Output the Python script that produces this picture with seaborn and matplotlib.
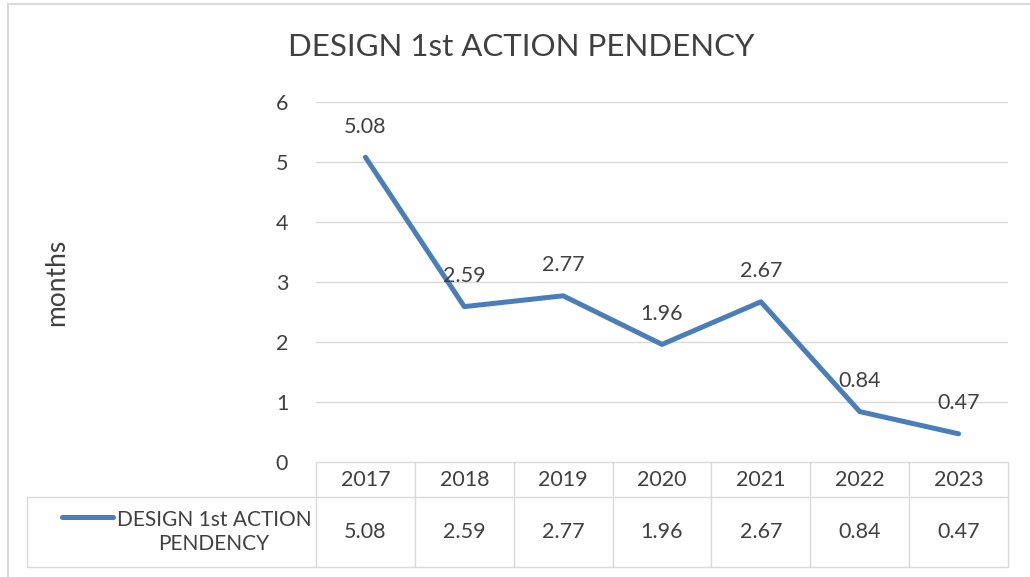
import numpy as np
import pandas as pd
import matplotlib
matplotlib.use("Agg")
import matplotlib.pyplot as plt
import matplotlib.transforms as mtransforms
from matplotlib.lines import Line2D
import seaborn as sns

years = ["2017", "2018", "2019", "2020", "2021", "2022", "2023"]
pendency = [5.08, 2.59, 2.77, 1.96, 2.67, 0.84, 0.47]
series_name = "DESIGN 1st ACTION PENDENCY"
y_ticks = [0, 1, 2, 3, 4, 5, 6]

sns.set_theme(style="white")
plt.rcParams["font.family"] = ["Lato", "DejaVu Sans"]

W, H = 1030, 577
blue = "#4A7EBB"
grid = "#D9D9D9"
txt = "#404040"
fs = 15.5

fig = plt.figure(figsize=(W / 100, H / 100), dpi=100)
fig.patch.set_facecolor("white")

# plot area in pixels
left, right, top, bottom = 316, 1008, 102, 462
ax = fig.add_axes([left / W, 1 - bottom / H, (right - left) / W, (bottom - top) / H])

df = pd.DataFrame({"year": years, "value": pendency})
sns.lineplot(data=df, x="year", y="value", ax=ax, color=blue, linewidth=3.6,
             sort=False, solid_capstyle="round")

ax.set_xlim(-0.5, len(years) - 0.5)
ax.set_ylim(0, 6)
ax.set_yticks(y_ticks)
ax.set_yticklabels([str(t) for t in y_ticks], fontsize=fs, color=txt)
ax.tick_params(axis="y", length=0, pad=20)
ax.set_xticks([])
ax.set_xlabel("")
ax.set_ylabel("")
for s in ax.spines.values():
    s.set_visible(False)
for t in y_ticks[1:]:
    ax.axhline(t, color=grid, linewidth=1, zorder=0)

# data labels
for i, v in enumerate(pendency):
    ax.annotate(f"{v:.2f}", (i, v), xytext=(0, 22), textcoords="offset points",
                ha="center", va="center", fontsize=fs, color=txt)

fig.text(57 / W, 1 - 282 / H, "months", rotation=90, ha="center", va="center",
         fontsize=19, color=txt)
fig.text(521 / W, 1 - 47 / H, series_name, ha="center", va="center",
         fontsize=22.5, color=txt)

# data table under the axis
def fy(py):
    return 1 - py / H

bt = mtransforms.blended_transform_factory(ax.transData, fig.transFigure)
row0, row1, row2 = 462, 497, 567
n = len(years)
for k in range(n + 1):
    fig.add_artist(Line2D([k - 0.5, k - 0.5], [fy(row0), fy(row2)], transform=bt,
                          color=grid, linewidth=1))
fig.add_artist(Line2D([-0.5, n - 0.5], [fy(row0), fy(row0)], transform=bt, color=grid, linewidth=1))
for r in (row1, row2):
    fig.add_artist(Line2D([27 / W, right / W], [fy(r), fy(r)], transform=fig.transFigure,
                          color=grid, linewidth=1))
fig.add_artist(Line2D([27 / W, 27 / W], [fy(row1), fy(row2)], transform=fig.transFigure,
                      color=grid, linewidth=1))
for i, (yr, v) in enumerate(zip(years, pendency)):
    fig.text(i, fy(480), yr, transform=bt, ha="center", va="center", fontsize=fs, color=txt)
    fig.text(i, fy(532), f"{v:.2f}", transform=bt, ha="center", va="center", fontsize=fs, color=txt)

fig.add_artist(Line2D([62 / W, 113 / W], [fy(517), fy(517)], transform=fig.transFigure,
                      color=blue, linewidth=3.6, solid_capstyle="round"))
fig.text(214 / W, fy(532), "DESIGN 1st ACTION\nPENDENCY", ha="center", va="center",
         fontsize=15, color=txt, linespacing=1.3)

# chart border
fig.add_artist(Line2D([8 / W, 8 / W], [0, fy(4)], transform=fig.transFigure, color=grid, linewidth=1.5))
fig.add_artist(Line2D([8 / W, 1], [fy(4), fy(4)], transform=fig.transFigure, color=grid, linewidth=1.5))

fig.savefig("out.png", dpi=100, facecolor="white")
